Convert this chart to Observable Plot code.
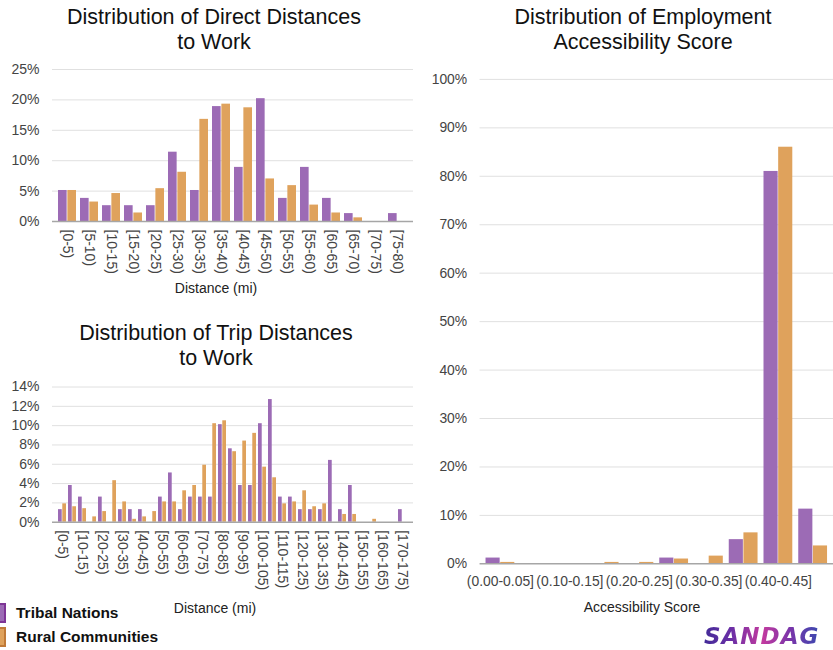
<!DOCTYPE html>
<html><head><meta charset="utf-8">
<script src="https://cdn.jsdelivr.net/npm/d3@7"></script>
<script src="https://cdn.jsdelivr.net/npm/@observablehq/plot@0.6"></script>
<style>
html,body{margin:0;padding:0;}
body{width:833px;height:650px;overflow:hidden;position:relative;background:#fff;font-family:"Liberation Sans",Arial,sans-serif;}
.abs{position:absolute;}
.title{font-size:21.5px;line-height:25px;text-align:center;color:#111;white-space:nowrap;}
.axtitle{font-size:14px;color:#222;text-align:center;white-space:nowrap;}
.leg{font-size:15.5px;font-weight:bold;color:#111;line-height:20px;white-space:nowrap;}
.sw{position:absolute;left:-12px;width:14px;height:16px;border:2px solid;}
#logo{left:700px;top:623px;padding:0 6px 0 4px;font-family:"DejaVu Sans",sans-serif;font-size:23px;line-height:27px;font-weight:bold;font-style:italic;letter-spacing:1px;white-space:nowrap;
  background:linear-gradient(90deg,#3d2a96 0%,#6a2fa6 25%,#c23a9f 50%,#7a35aa 72%,#2f4cb0 100%);
  -webkit-background-clip:text;background-clip:text;-webkit-text-fill-color:transparent;color:#6a2fa6;}
</style></head><body>
<div class="abs title" style="left:0;width:428px;top:5px">Distribution of Direct Distances<br>to Work</div>
<div class="abs title" style="left:0;width:432px;top:321px">Distribution of Trip Distances<br>to Work</div>
<div class="abs title" style="left:453px;width:380px;top:5px">Distribution of Employment<br>Accessibility Score</div>
<div id="c1" class="abs" style="left:0;top:60px"></div>
<div id="c2" class="abs" style="left:0;top:375px"></div>
<div id="c3" class="abs" style="left:420px;top:65px"></div>
<div class="abs axtitle" style="left:116px;width:200px;top:280px">Distance (mi)</div>
<div class="abs axtitle" style="left:115px;width:200px;top:600px">Distance (mi)</div>
<div class="abs axtitle" style="left:542px;width:200px;top:599px">Accessibility Score</div>
<div class="abs leg" style="left:0;top:603px"><span class="sw" style="top:0;background:#9c6bb5;border-color:#7e3596"></span><span style="position:absolute;left:16px;top:0">Tribal Nations</span></div>
<div class="abs leg" style="left:0;top:627px"><span class="sw" style="top:0;background:#dfa25c;border-color:#c07a38"></span><span style="position:absolute;left:16px;top:0">Rural Communities</span></div>
<div id="logo" class="abs">SANDAG</div>
<script>
const seriesNames = ["Tribal Nations", "Rural Communities"];
const seriesColors = ["#9c6bb5", "#dfa25c"];

const directCats = ["[0-5)","[5-10)","[10-15)","[15-20)","[20-25)","[25-30)","[30-35)","[35-40)","[40-45)","[45-50)","[50-55)","[55-60)","[60-65)","[65-70)","[70-75)","[75-80)"];
const directTribal = [5.1, 3.8, 2.6, 2.6, 2.6, 11.4, 5.1, 18.9, 8.9, 20.2, 3.8, 8.9, 3.8, 1.3, 0, 1.3];
const directRural  = [5.1, 3.2, 4.6, 1.4, 5.4, 8.1, 16.8, 19.3, 18.7, 7.0, 5.9, 2.7, 1.4, 0.6, 0, 0];

const tripCats = ["[0-5)","[5-10)","[10-15)","[15-20)","[20-25)","[25-30)","[30-35)","[35-40)","[40-45)","[45-50)","[50-55)","[55-60)","[60-65)","[65-70)","[70-75)","[75-80)","[80-85)","[85-90)","[90-95)","[95-100)","[100-105)","[105-110)","[110-115)","[115-120)","[120-125)","[125-130)","[130-135)","[135-140)","[140-145)","[145-150)","[150-155)","[155-160)","[160-165)","[165-170)","[170-175)"];
const tripTribal = [1.3, 3.8, 2.6, 0, 2.6, 0, 1.3, 1.3, 1.3, 0, 2.6, 5.1, 1.3, 2.6, 2.6, 2.6, 10.1, 7.6, 3.8, 3.8, 10.2, 12.7, 2.6, 2.6, 1.3, 1.3, 1.3, 6.4, 1.3, 3.8, 0, 0, 0, 0, 1.3];
const tripRural  = [1.9, 1.6, 1.4, 0.55, 1.1, 4.3, 2.1, 0.3, 0.55, 1.1, 2.1, 2.1, 3.25, 3.8, 5.9, 10.2, 10.5, 7.3, 8.4, 9.2, 5.7, 4.6, 1.9, 2.1, 3.25, 1.6, 1.9, 0, 0.8, 0.8, 0, 0.3, 0, 0, 0];

const accessCats = ["(0.00-0.05]","(0.05-0.10]","(0.10-0.15]","(0.15-0.20]","(0.20-0.25]","(0.25-0.30]","(0.30-0.35]","(0.35-0.40]","(0.40-0.45]","(0.45-0.50]"];
const accessTribal = [1.2, 0, 0, 0, 0, 1.2, 0, 5.0, 81.0, 11.3];
const accessRural  = [0.3, 0, 0, 0.3, 0.3, 1.0, 1.6, 6.4, 86.0, 3.7];

function groupedChart(o) {
  const {cats, tribal, rural, yMax, yStep, width, height, mL, mR, mT, mB, xTicks, rotate, tickPad} = o;
  const rows = cats.flatMap((c, i) => [
    {cat: c, series: seriesNames[0], value: tribal[i]},
    {cat: c, series: seriesNames[1], value: rural[i]}
  ]);
  const pInner = 0.17, pOuter = 0.085;
  const plotW = width - mL - mR;
  const step = plotW / (cats.length - pInner + 2 * pOuter);
  const half = step * (1 - pInner) / 2;
  const yTicks = d3.range(0, yMax + 1e-9, yStep);
  return Plot.plot({
    width, height,
    marginLeft: mL, marginRight: mR, marginTop: mT, marginBottom: mB,
    style: {fontFamily: "Liberation Sans, Arial, sans-serif", fontSize: "14px", color: "#444", background: "transparent", overflow: "visible"},
    x: {domain: cats, paddingInner: pInner, paddingOuter: pOuter, label: null},
    y: {domain: [0, yMax], label: null},
    color: {domain: seriesNames, range: seriesColors},
    marks: [
      Plot.ruleY(yTicks.slice(1), {stroke: "#e0e0e0", strokeWidth: 1}),
      Plot.barY(rows.filter(d => d.series === seriesNames[0]), {x: "cat", y: "value", fill: "series", insetRight: half}),
      Plot.barY(rows.filter(d => d.series === seriesNames[1]), {x: "cat", y: "value", fill: "series", insetLeft: half}),
      Plot.ruleY([0], {stroke: "#a6a6a6", strokeWidth: 1.5}),
      Plot.axisY({ticks: yTicks, tickSize: 0, tickPadding: 13, tickFormat: d => d + "%", label: null}),
      Plot.axisX({ticks: xTicks, tickSize: 0, tickPadding: tickPad, tickRotate: rotate, label: null})
    ]
  });
}

document.getElementById("c1").append(groupedChart({
  cats: directCats, tribal: directTribal, rural: directRural, yMax: 25, yStep: 5,
  width: 420, height: 250, mL: 52, mR: 7, mT: 9, mB: 89, xTicks: directCats, rotate: 90, tickPad: 8
}));
document.getElementById("c2").append(groupedChart({
  cats: tripCats, tribal: tripTribal, rural: tripRural, yMax: 14, yStep: 2,
  width: 420, height: 230, mL: 52, mR: 7, mT: 11.5, mB: 83.3,
  xTicks: tripCats.filter((d, i) => i % 2 === 0), rotate: 90, tickPad: 8
}));
document.getElementById("c3").append(groupedChart({
  cats: accessCats, tribal: accessTribal, rural: accessRural, yMax: 100, yStep: 10,
  width: 416, height: 540, mL: 60, mR: 0, mT: 14, mB: 38,
  xTicks: accessCats.filter((d, i) => i % 2 === 0), rotate: 0, tickPad: 12
}));
</script>
</body></html>
